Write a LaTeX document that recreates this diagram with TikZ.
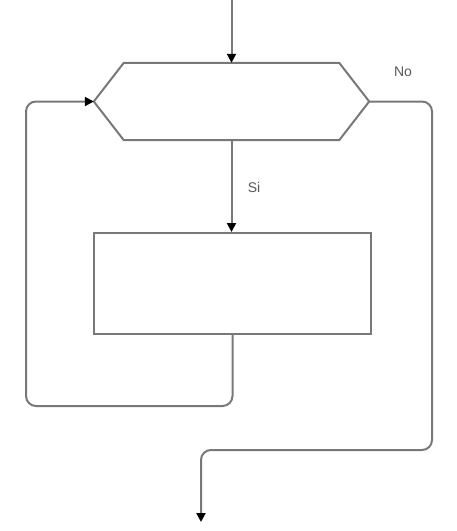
\documentclass[tikz,border=0pt]{standalone}
\usepackage{fontspec}
\setmainfont{Liberation Sans}
\usetikzlibrary{arrows.meta}
\definecolor{edge}{RGB}{120,120,120}
\tikzset{
  shapeline/.style={draw=edge, line width=2pt},
  flow/.style={draw=edge, line width=2pt, rounded corners=10pt,
    -{Triangle[length=9pt,width=9pt,color=black]}},
  lbl/.style={font=\fontsize{14}{16}\selectfont, text=black!65}
}
\begin{document}
\begin{tikzpicture}[x=1pt,y=-1pt]
  \useasboundingbox (0,0) rectangle (456,531);
  % decision hexagon (bounding node) and process box
  \node[minimum width=275pt, minimum height=77pt, inner sep=0pt] (dec) at (231.5,101.5) {};
  \draw[shapeline, line join=miter] (dec.west) -- ([xshift=30pt]dec.north west)
    -- ([xshift=-30pt]dec.north east) -- (dec.east)
    -- ([xshift=-30pt]dec.south east) -- ([xshift=30pt]dec.south west) -- cycle;
  \node[shapeline, minimum width=277pt, minimum height=101pt, inner sep=0pt] (proc) at (232.5,283.5) {};
  % free ends and bends
  \coordinate (start) at (231.5,0);
  \coordinate (loopcorner) at (26,406);
  \coordinate (exitcorner) at (432,450);
  \coordinate (finish) at (201,522);
  % connectors
  \draw[flow] (start) -- (dec.north);
  \draw[flow] (dec.south) -- (dec.south |- proc.north);
  \draw[flow] (proc.south) |- (loopcorner) |- (dec.west);
  \draw[flow] (dec.east) -| (exitcorner) -| (finish);
  % branch labels
  \node[lbl] (si) at (254,187) {Si};
  \node[lbl] (no) at (403,72) {No};
\end{tikzpicture}
\end{document}
